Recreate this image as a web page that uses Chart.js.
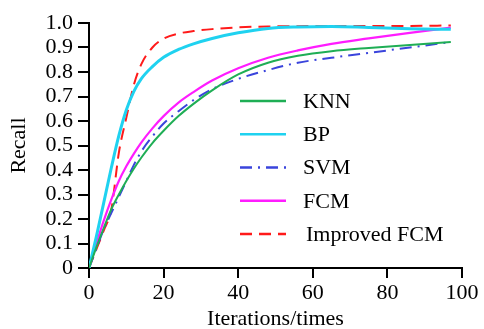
<!DOCTYPE html>
<html>
<head>
<meta charset="utf-8">
<script src="https://cdn.jsdelivr.net/npm/chart.js@4"></script>
<style>
  body { margin: 0; background: #fff; }
  #wrap { width: 484px; height: 329px; }
</style>
</head>
<body>
<div id="wrap"><canvas id="recallChart" width="484" height="329"></canvas></div>
<script>
// iterations (x) and recall
const iterations = [0, 2, 4, 6, 8, 10, 12, 14, 17, 20, 24, 28, 33, 40, 48, 56, 65, 75, 86, 97];
const knn        = [0, 0.085, 0.165, 0.24, 0.30, 0.355, 0.405, 0.45, 0.51, 0.56, 0.62, 0.67, 0.725, 0.79, 0.838, 0.866, 0.885, 0.898, 0.91, 0.922];
const bp         = [0, 0.13, 0.27, 0.41, 0.54, 0.645, 0.72, 0.772, 0.822, 0.86, 0.892, 0.915, 0.937, 0.96, 0.978, 0.984, 0.986, 0.982, 0.977, 0.974];
const svm        = [0, 0.08, 0.16, 0.225, 0.29, 0.355, 0.42, 0.475, 0.537, 0.59, 0.64, 0.685, 0.73, 0.772, 0.808, 0.838, 0.858, 0.878, 0.90, 0.922];
const fcm        = [0, 0.1, 0.195, 0.28, 0.355, 0.415, 0.466, 0.512, 0.57, 0.62, 0.675, 0.718, 0.765, 0.815, 0.858, 0.888, 0.915, 0.937, 0.96, 0.981];
const improved   = [0, 0.077, 0.155, 0.24, 0.47, 0.613, 0.746, 0.831, 0.90, 0.936, 0.957, 0.967, 0.975, 0.982, 0.986, 0.987, 0.988, 0.988, 0.988, 0.990];
const seriesNames = ['KNN', 'BP', 'SVM', 'FCM', 'Improved FCM'];

const FONT = 'Liberation Serif, Times New Roman, serif';

function pts(ys) {
    return iterations.map((x, i) => ({ x: x, y: ys[i] }));
}

// legend drawn inside the plot, like the original figure
const innerLegend = {
    id: 'innerLegend',
    afterDraw(chart) {
        const ctx = chart.ctx;
        const area = chart.chartArea;
        const x0 = area.left + 151;
        const y0 = 101;
        const step = 33.25;
        ctx.save();
        ctx.font = '22px ' + FONT;
        ctx.textBaseline = 'middle';
        ctx.fillStyle = '#000';
        chart.data.datasets.forEach((ds, i) => {
            const y = y0 + i * step;
            ctx.beginPath();
            ctx.strokeStyle = ds.borderColor;
            ctx.lineWidth = 2.5;
            ctx.setLineDash(ds.borderDash || []);
            ctx.moveTo(x0, y);
            ctx.lineTo(x0 + 46, y);
            ctx.stroke();
            ctx.setLineDash([]);
            ctx.fillText(ds.label, x0 + 63 + (i === 4 ? 3 : 0), y + 1);
        });
        ctx.restore();
    }
};

const colors = ['#1fae55', '#1fd2f0', '#3a44dc', '#ff1cff', '#ff1a1a'];
const dashes = [[], [], [12, 6, 2, 6], [], [12, 7]];
const widths = [2, 3, 2, 2.2, 2];
const allData = [knn, bp, svm, fcm, improved];

const ctx = document.getElementById('recallChart').getContext('2d');
new Chart(ctx, {
    type: 'line',
    data: {
        datasets: allData.map((d, i) => ({
            label: seriesNames[i],
            data: pts(d),
            borderColor: colors[i],
            borderWidth: widths[i],
            borderDash: dashes[i],
            pointRadius: 0,
            fill: false,
            cubicInterpolationMode: 'monotone'
        }))
    },
    options: {
        responsive: false,
        animation: false,
        devicePixelRatio: 1,
        layout: { padding: { top: 23, right: 22, left: 0, bottom: 0 } },
        plugins: {
            legend: { display: false },
            tooltip: { enabled: false }
        },
        scales: {
            x: {
                type: 'linear',
                min: 0,
                max: 100,
                ticks: { stepSize: 20, autoSkip: false, color: '#000', font: { family: FONT, size: 22 }, padding: 2, maxRotation: 0 },
                grid: { display: true, drawOnChartArea: false, drawTicks: true, tickLength: 10, color: '#000', lineWidth: 2 },
                border: { display: true, color: '#000', width: 2 },
                title: { display: true, text: 'Iterations/times', color: '#000', font: { family: FONT, size: 22 }, padding: { top: 0, bottom: -3 } },
                afterFit(scale) { scale.height = 61; }
            },
            y: {
                min: 0,
                max: 1,
                ticks: {
                    stepSize: 0.1, autoSkip: false, color: '#000', font: { family: FONT, size: 22 }, padding: 5,
                    callback: v => (v === 0 ? '0' : v.toFixed(1))
                },
                grid: { display: true, drawOnChartArea: false, drawTicks: true, tickLength: 11, color: '#000', lineWidth: 2 },
                border: { display: true, color: '#000', width: 2 },
                title: { display: true, text: 'Recall', color: '#000', font: { family: FONT, size: 22 }, padding: { top: 6, bottom: 0 } },
                afterFit(scale) { scale.width = 89; }
            }
        }
    },
    plugins: [innerLegend]
});
</script>
</body>
</html>
